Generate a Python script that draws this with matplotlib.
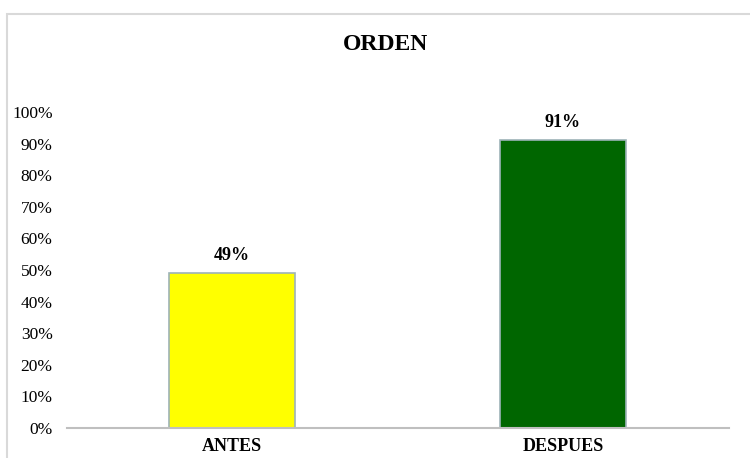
import matplotlib
matplotlib.use('Agg')
import matplotlib.pyplot as plt
from matplotlib.patches import Rectangle
from matplotlib.ticker import PercentFormatter

categorias = ['ANTES', 'DESPUES']
valores = [0.49, 0.91]
colores = ['#ffff00', '#006600']

plt.rcParams['font.family'] = 'Liberation Serif'

fig = plt.figure(figsize=(7.5, 4.58), dpi=100)
# marco gris alrededor del grafico
fig.patches.append(Rectangle((7 / 750, -0.1), 1.2, 1.1 - 14 / 458, transform=fig.transFigure,
                             fill=False, edgecolor='#d9d9d9', linewidth=1.5))

ax = fig.add_axes([66.5 / 750, 30 / 458, 662 / 750, 316 / 458])
x = range(len(categorias))
barras = ax.bar(x, valores, width=0.38, color=colores, edgecolor='#9db3b8', linewidth=1.2)
for b, v in zip(barras, valores):
    ax.text(b.get_x() + b.get_width() / 2, v + 0.03, f'{v:.0%}', ha='center', va='bottom',
            fontsize=13, fontweight='bold')

ax.set_xlim(-0.5, 1.5)
ax.set_ylim(0, 1.0)
ax.set_yticks([i / 10 for i in range(11)])
ax.yaxis.set_major_formatter(PercentFormatter(1.0, decimals=0))
ax.set_xticks(list(x))
ax.set_xticklabels(categorias, fontweight='bold', fontsize=13)
ax.tick_params(axis='y', length=0, pad=10, labelsize=12.5)
ax.tick_params(axis='x', length=0, pad=7)
for s in ['top', 'right', 'left']:
    ax.spines[s].set_visible(False)
ax.spines['bottom'].set_color('#bfbfbf')
ax.spines['bottom'].set_linewidth(1.5)

fig.text(385 / 750, 1 - 45 / 458, 'ORDEN', ha='center', va='center', fontsize=17, fontweight='bold')

fig.savefig('out.png', dpi=100)
